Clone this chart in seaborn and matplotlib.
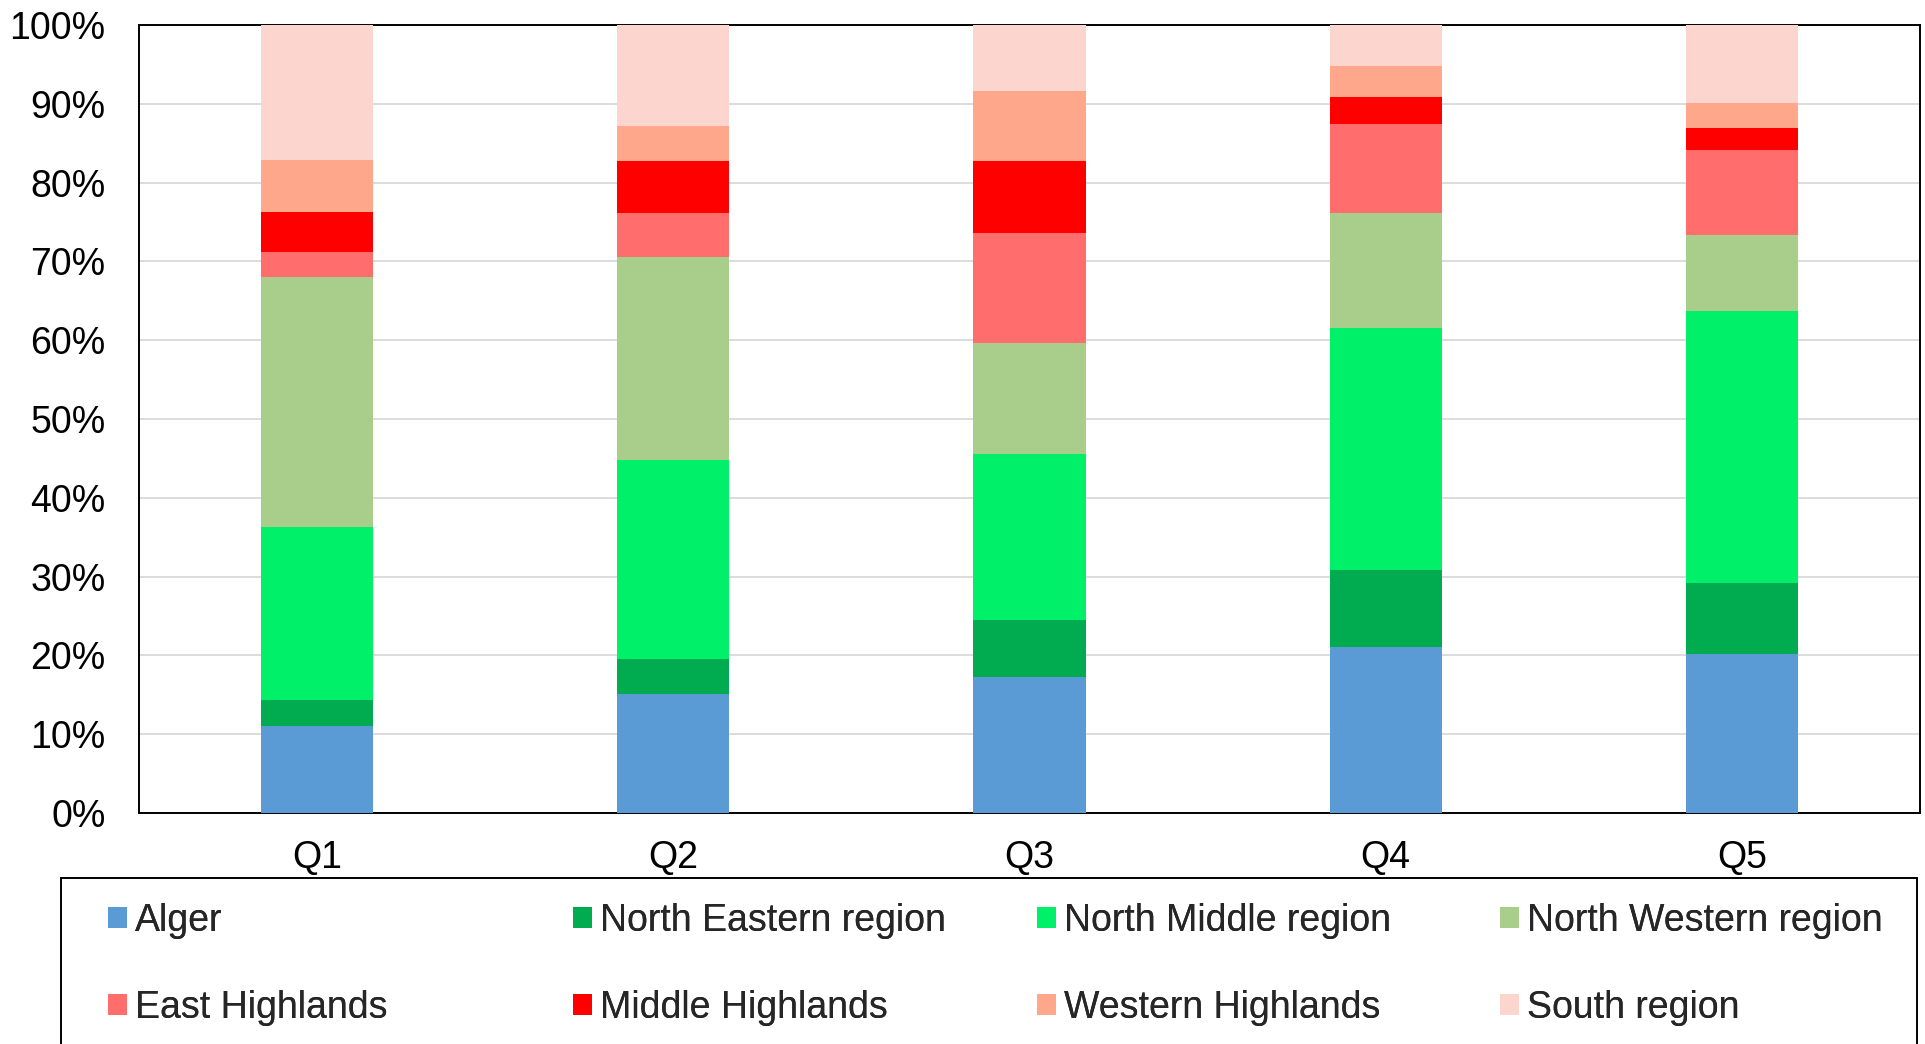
import matplotlib
matplotlib.use("Agg")
import matplotlib.pyplot as plt
import seaborn as sns
import numpy as np
from matplotlib.patches import Rectangle, Patch
from matplotlib.ticker import FuncFormatter

# ---------------- data ----------------
quintiles = ["Q1", "Q2", "Q3", "Q4", "Q5"]
regions = ["Alger", "North Eastern region", "North Middle region",
           "North Western region", "East Highlands", "Middle Highlands",
           "Western Highlands", "South region"]
alger = [11.0, 15.1, 17.3, 21.1, 20.2]
north_eastern = [3.35, 4.4, 7.2, 9.8, 9.0]
north_middle = [21.95, 25.3, 21.1, 30.7, 34.5]
north_western = [31.7, 25.7, 14.0, 14.5, 9.6]
east_highlands = [3.2, 5.6, 14.0, 11.4, 10.8]
middle_highlands = [5.1, 6.6, 9.2, 3.4, 2.8]
western_highlands = [6.6, 4.5, 8.8, 3.9, 3.2]
south_region = [17.1, 12.8, 8.4, 5.2, 9.9]
y_ticks = [0, 10, 20, 30, 40, 50, 60, 70, 80, 90, 100]

series = [alger, north_eastern, north_middle, north_western,
          east_highlands, middle_highlands, western_highlands, south_region]
colors = ["#5B9BD5", "#00AC4F", "#00F06A", "#A9CE8C",
          "#FF6D6D", "#FF0000", "#FFA78B", "#FCD5CE"]

# ---------------- style ----------------
sns.set_theme(style="white")
plt.rcParams["font.family"] = ["Liberation Sans", "DejaVu Sans"]
FS = 27

fig = plt.figure(figsize=(19.25, 10.44), dpi=100)
ax = fig.add_axes([139 / 1925, 1 - 813 / 1044, (1920 - 139) / 1925, (813 - 25) / 1044])

bottom = np.zeros(len(quintiles))
for name, vals, col in zip(regions, series, colors):
    sns.barplot(x=quintiles, y=vals, order=quintiles, bottom=bottom, color=col,
                saturation=1, width=0.315, linewidth=0, errorbar=None, ax=ax,
                zorder=3)
    bottom = bottom + np.array(vals)

ax.set_xlim(-0.5, 4.5)
ax.set_ylim(0, 100)
ax.set_yticks(y_ticks)
ax.yaxis.set_major_formatter(FuncFormatter(lambda v, p: f"{v:.0f}%"))
ax.grid(axis="y", color="#D9D9D9", linewidth=1.3, zorder=0)
ax.set_axisbelow(True)
ax.tick_params(axis="y", length=0, pad=24, labelsize=FS, labelcolor="black")
ax.tick_params(axis="x", length=0, pad=19.5, labelsize=FS, labelcolor="black")
ax.set_xlabel("")
ax.set_ylabel("")
for s in ax.spines.values():
    s.set_visible(True)
    s.set_color("black")
    s.set_linewidth(1.4)

# ---------------- legend ----------------
fig.add_artist(Rectangle((61 / 1925, -0.2), (1917 - 61) / 1925,
                         0.2 + 1 - 877.7 / 1044, transform=fig.transFigure,
                         fill=False, edgecolor="black", linewidth=1.4,
                         clip_on=False))

col_x = [108, 573, 1037, 1500]
handles = [Patch(facecolor=c, edgecolor="none") for c in colors]
for i, x in enumerate(col_x):
    idx = [i, i + 4]
    leg = fig.legend([handles[j] for j in idx], [regions[j] for j in idx],
                     loc="upper left",
                     bbox_to_anchor=(x / 1925, 1 - 903 / 1044),
                     bbox_transform=fig.transFigure,
                     frameon=False, borderpad=0, borderaxespad=0,
                     handlelength=0.5, handleheight=0.5,
                     handletextpad=0.22, labelspacing=1.36,
                     fontsize=FS)
    fig.add_artist(leg)

fig.savefig("out.png", dpi=100)
